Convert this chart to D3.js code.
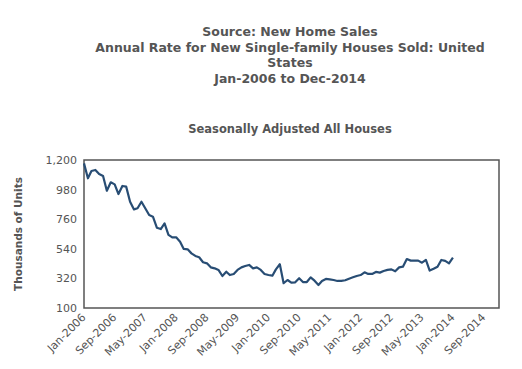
<!DOCTYPE html>
<html>
<head>
<meta charset="utf-8">
<script src="https://cdn.jsdelivr.net/npm/d3@7"></script>
<style>
  html, body { margin: 0; padding: 0; background: #fff; }
  svg text { font-family: "DejaVu Sans", Verdana, sans-serif; }
</style>
</head>
<body>
<div id="chart"></div>
<script>
/* monthly values, Jan-2006 .. Jan-2014, thousands of units (SAAR) */
var startMonth = '2006-01';
var sales = [
  1175, 1064, 1118, 1126, 1096, 1081, 972, 1034, 1019, 947, 1007, 1002,
  890, 833, 841, 890, 841, 791, 779, 697, 687, 729, 643, 625,
  625, 593, 539, 536, 506, 487, 477, 440, 432, 402, 395, 383,
  338, 370, 345, 353, 383, 402, 412, 420, 395, 402, 383, 353,
  345, 340, 387, 425, 284, 308, 288, 291, 321, 293, 293, 328,
  303, 271, 301, 316, 313, 308, 301, 301, 306, 318, 328, 338,
  345, 365, 353, 353, 368, 363, 375, 383, 387, 373, 402, 407,
  464, 452, 452, 452, 437, 457, 378, 392, 407, 457, 450, 432,
  474
];
var yTicks = [100, 320, 540, 760, 980, 1200];
var xTickLabels = ['Jan-2006', 'Sep-2006', 'May-2007', 'Jan-2008', 'Sep-2008', 'May-2009',
  'Jan-2010', 'Sep-2010', 'May-2011', 'Jan-2012', 'Sep-2012', 'May-2013', 'Jan-2014', 'Sep-2014'];
var titleLines = ['Source: New Home Sales',
  'Annual Rate for New Single-family Houses Sold: United',
  'States',
  'Jan-2006 to Dec-2014'];
var subtitle = 'Seasonally Adjusted All Houses';
var yLabel = 'Thousands of Units';

(function drawChart() {
  var W = 522, H = 369;
  var m = { left: 84, right: 23, top: 160, bottom: 61 };
  var svg = d3.select('#chart').append('svg')
    .attr('width', W).attr('height', H);

  var parse = d3.timeParse('%Y-%m');
  var fmt = d3.timeFormat('%b-%Y');
  var t0 = parse(startMonth);
  var data = sales.map(function (v, i) {
    return { date: d3.timeMonth.offset(t0, i), value: v };
  });

  var x = d3.scaleTime()
    .domain([t0, parse('2015-01')])
    .range([m.left, W - m.right]);
  var y = d3.scaleLinear()
    .domain([100, 1200])
    .range([H - m.bottom, m.top]);

  /* ── titles ── */
  var cx = 290;
  titleLines.forEach(function (t, i) {
    svg.append('text')
      .attr('x', cx).attr('y', 36 + i * 15.7)
      .attr('text-anchor', 'middle')
      .attr('font-size', 12.5).attr('font-weight', 'bold')
      .attr('fill', '#555')
      .text(t);
  });
  svg.append('text')
    .attr('x', cx).attr('y', 133)
    .attr('text-anchor', 'middle')
    .attr('font-size', 11.5).attr('font-weight', 'bold')
    .attr('fill', '#555')
    .text(subtitle);

  /* ── y axis label ── */
  svg.append('text')
    .attr('transform', 'translate(22,' + ((m.top + H - m.bottom) / 2) + ') rotate(-90)')
    .attr('text-anchor', 'middle')
    .attr('font-size', 10.5).attr('font-weight', 'bold')
    .attr('fill', '#555')
    .text(yLabel);

  /* ── y axis ── */
  var yAxis = d3.axisLeft(y)
    .tickValues(yTicks)
    .tickSize(0).tickPadding(7)
    .tickFormat(d3.format(','));
  var gy = svg.append('g')
    .attr('transform', 'translate(' + m.left + ',0)')
    .call(yAxis);
  gy.select('.domain').remove();
  gy.selectAll('text').attr('font-size', 11).attr('fill', '#555')
    .attr('font-family', '"DejaVu Sans", Verdana, sans-serif');

  /* ── x axis ── */
  var xTickDates = xTickLabels.map(function (s) { return d3.timeParse('%b-%Y')(s); });
  var xAxis = d3.axisBottom(x)
    .tickValues(xTickDates)
    .tickSize(0).tickPadding(0)
    .tickFormat(fmt);
  var gx = svg.append('g')
    .attr('transform', 'translate(0,' + (H - m.bottom) + ')')
    .call(xAxis);
  gx.select('.domain').remove();
  gx.selectAll('text')
    .attr('font-size', 11).attr('fill', '#555')
    .attr('font-family', '"DejaVu Sans", Verdana, sans-serif')
    .attr('text-anchor', 'end')
    .attr('dy', 0)
    .attr('transform', 'translate(2,10) rotate(-45)');

  /* ── plot frame ── */
  svg.append('rect')
    .attr('x', m.left).attr('y', m.top)
    .attr('width', W - m.left - m.right)
    .attr('height', H - m.top - m.bottom)
    .attr('fill', 'none')
    .attr('stroke', '#555').attr('stroke-width', 1.5);

  /* ── series line ── */
  var line = d3.line()
    .x(function (d) { return x(d.date); })
    .y(function (d) { return y(d.value); });
  svg.append('path')
    .datum(data)
    .attr('d', line)
    .attr('fill', 'none')
    .attr('stroke', '#284d74')
    .attr('stroke-width', 2.2)
    .attr('stroke-linejoin', 'round');
}());
</script>
</body>
</html>
